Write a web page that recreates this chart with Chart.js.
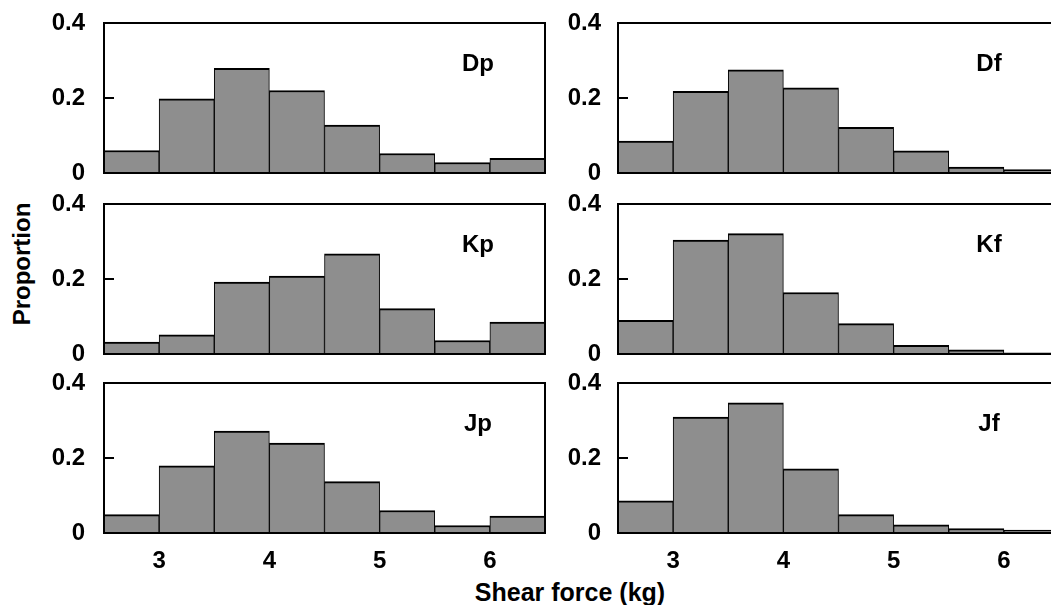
<!DOCTYPE html>
<html>
<head>
<meta charset="utf-8">
<script src="https://cdn.jsdelivr.net/npm/chart.js@4.4.1/dist/chart.umd.min.js"></script>
<style>
  html, body { margin: 0; padding: 0; background: #fff; width: 1051px; height: 605px; overflow: hidden; }
  #wrap { position: relative; width: 1051px; height: 605px; overflow: hidden; }
  canvas { position: absolute; }
  .axtitle { position: absolute; font-family: "Liberation Sans", Arial, sans-serif; font-weight: bold; color: #000; white-space: nowrap; line-height: 1; }
</style>
</head>
<body>
<div id="wrap">
  <div class="axtitle" id="ytitle" style="font-size:24px; left:22px; top:264px; transform: translate(-50%,-50%) rotate(-90deg);">Proportion</div>
  <div class="axtitle" id="xtitle" style="font-size:25px; left:570px; top:580px; transform: translateX(-50%);">Shear force (kg)</div>
</div>
<script>
// ---- data ----
const binCenters = [2.75, 3.25, 3.75, 4.25, 4.75, 5.25, 5.75, 6.25];
const xTickValues = [3, 4, 5, 6];
const yTickValues = [0, 0.2, 0.4];
const innerTickValues = [0.2];
const panelNames = ['Dp', 'Df', 'Kp', 'Kf', 'Jp', 'Jf'];
const Dp = [0.060, 0.198, 0.279, 0.220, 0.128, 0.052, 0.028, 0.039];
const Df = [0.085, 0.218, 0.275, 0.227, 0.122, 0.059, 0.016, 0.009];
const Kp = [0.032, 0.051, 0.192, 0.208, 0.267, 0.121, 0.036, 0.085];
const Kf = [0.090, 0.304, 0.321, 0.164, 0.081, 0.023, 0.011, 0.003];
const Jp = [0.049, 0.179, 0.272, 0.240, 0.137, 0.060, 0.020, 0.045];
const Jf = [0.086, 0.309, 0.347, 0.171, 0.049, 0.022, 0.012, 0.008];
const panelValues = [Dp, Df, Kp, Kf, Jp, Jf];

// ---- layout ----
const FONT = '"Liberation Sans", Arial, Helvetica, sans-serif';
const rowTops = [23, 204, 383];
const colAreaLefts = [104, 618];
const plotH = 150, plotW = 441, yAxisW = 100, padTop = 20, padRight = 20;

const framePlugin = {
  id: 'panelFrame',
  afterDatasetsDraw(chart, args, opts) {
    const ctx = chart.ctx, a = chart.chartArea, y = chart.scales.y;
    ctx.save();
    ctx.strokeStyle = '#000';
    ctx.lineWidth = 2;
    ctx.strokeRect(a.left, a.top, a.right - a.left, a.bottom - a.top);
    innerTickValues.forEach(v => {
      const py = Math.round(y.getPixelForValue(v));
      ctx.beginPath();
      ctx.moveTo(a.left, py);
      ctx.lineTo(a.left + 10, py);
      ctx.stroke();
    });
    ctx.font = 'bold 24px ' + FONT;
    ctx.fillStyle = '#000';
    ctx.textAlign = 'center';
    ctx.textBaseline = 'alphabetic';
    ctx.fillText(opts.label, a.right - opts.labelOffset, a.top + 48);
    ctx.restore();
  }
};

const zeroPad = s => { s.paddingTop = 0; s.paddingBottom = 0; s.paddingLeft = 0; s.paddingRight = 0; };

const wrap = document.getElementById('wrap');
panelNames.forEach((name, i) => {
  const row = Math.floor(i / 2), col = i % 2;
  const isBottom = row === 2;
  const padBottom = isBottom ? 5 : 20;
  const xH = isBottom ? 40 : 0;
  const cw = yAxisW + plotW + padRight;
  const ch = padTop + plotH + xH + padBottom;
  const cv = document.createElement('canvas');
  cv.width = cw; cv.height = ch;
  cv.style.width = cw + 'px'; cv.style.height = ch + 'px';
  cv.style.left = (colAreaLefts[col] - yAxisW) + 'px';
  cv.style.top = (rowTops[row] - padTop) + 'px';
  wrap.appendChild(cv);

  new Chart(cv, {
    type: 'bar',
    data: {
      datasets: [{
        data: binCenters.map((c, k) => ({ x: c, y: panelValues[i][k] })),
        backgroundColor: '#8e8e8e',
        borderColor: '#000',
        borderWidth: { top: 2, left: 1, right: 1, bottom: 0 },
        borderSkipped: 'start',
        barPercentage: 1,
        categoryPercentage: 1
      }]
    },
    plugins: [framePlugin],
    options: {
      responsive: false,
      animation: false,
      devicePixelRatio: 1,
      layout: { padding: { top: padTop, right: padRight, bottom: padBottom, left: 0 } },
      plugins: {
        legend: { display: false },
        tooltip: { enabled: false },
        panelFrame: { label: name, labelOffset: col === 0 ? 67 : 70 }
      },
      scales: {
        x: {
          type: 'linear',
          min: 2.5, max: 6.5,
          offset: false,
          display: isBottom,
          grid: { display: false, drawTicks: false, offset: false },
          border: { display: false },
          afterBuildTicks: s => { s.ticks = xTickValues.map(v => ({ value: v })); },
          afterFit: s => { s.height = xH; zeroPad(s); },
          ticks: {
            color: '#000',
            padding: 14,
            maxRotation: 0,
            autoSkip: false,
            font: { family: FONT, size: 24, weight: 'bold' }
          }
        },
        y: {
          min: 0, max: 0.4,
          grid: { display: false, drawTicks: false },
          border: { display: false },
          afterBuildTicks: s => { s.ticks = yTickValues.map(v => ({ value: v })); },
          afterFit: s => { s.width = yAxisW; zeroPad(s); },
          ticks: {
            color: '#000',
            padding: col === 0 ? 19 : 17,
            callback: v => String(v),
            font: { family: FONT, size: 24, weight: 'bold' }
          }
        }
      }
    }
  });
});
</script>
</body>
</html>
